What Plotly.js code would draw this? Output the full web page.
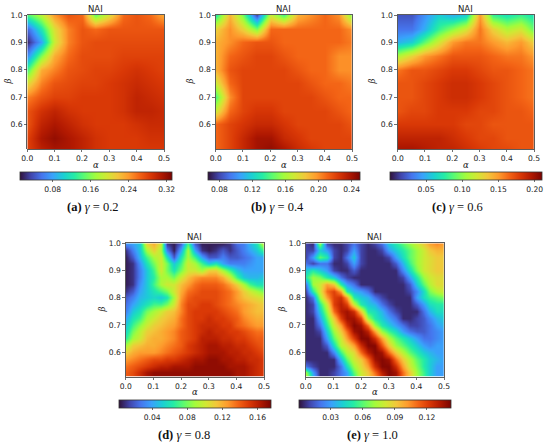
<!DOCTYPE html>
<html><head><meta charset="utf-8">
<script src="https://cdn.plot.ly/plotly-3.0.1.min.js"></script>
<style>html,body{margin:0;padding:0;background:#fff}#plot{width:550px;height:446px}</style>
</head><body><div id="plot"></div>
<script>
// coarse grid (panels a, b, c): alpha columns, beta rows listed from top (1.0) to bottom
const alpha = [0, 0.05, 0.10, 0.15, 0.20, 0.25, 0.30, 0.35, 0.40, 0.45, 0.50];
const betaTopDown = [1.00, 0.95, 0.90, 0.85, 0.80, 0.75, 0.70, 0.65, 0.60, 0.55, 0.50];
// fine grid (panels d, e)
const alphaFine = [0, 0.025, 0.05, 0.075, 0.10, 0.125, 0.15, 0.175, 0.20, 0.225, 0.25,
                   0.275, 0.30, 0.325, 0.35, 0.375, 0.40, 0.425, 0.45, 0.475, 0.50];
const betaFineTopDown = [1.00, 0.975, 0.95, 0.925, 0.90, 0.875, 0.85, 0.825, 0.80, 0.775, 0.75,
                         0.725, 0.70, 0.675, 0.65, 0.625, 0.60, 0.575, 0.55, 0.525, 0.50];

const xTickVals = [0, 0.1, 0.2, 0.3, 0.4, 0.5];
const xTickText = ['0.0', '0.1', '0.2', '0.3', '0.4', '0.5'];
const yTickVals = [0.6, 0.7, 0.8, 0.9, 1.0];
const yTickText = ['0.6', '0.7', '0.8', '0.9', '1.0'];

const captions = ['(a)', '(b)', '(c)', '(d)', '(e)'];
const gammas = ['0.2', '0.4', '0.6', '0.8', '1.0'];

// NAI values, rows top (beta=1.0) to bottom (beta=0.5)
const naiA = [
 [0.14,0.18,0.24,0.27,0.26,0.15,0.20,0.26,0.27,0.26,0.23],
 [0.05,0.12,0.20,0.25,0.27,0.26,0.27,0.27,0.27,0.27,0.27],
 [0.02,0.08,0.19,0.25,0.27,0.275,0.275,0.275,0.275,0.275,0.275],
 [0.07,0.16,0.23,0.26,0.275,0.275,0.275,0.28,0.28,0.28,0.28],
 [0.14,0.23,0.25,0.27,0.275,0.28,0.28,0.285,0.29,0.285,0.28],
 [0.20,0.25,0.27,0.275,0.28,0.28,0.285,0.29,0.295,0.29,0.285],
 [0.25,0.27,0.28,0.28,0.285,0.285,0.285,0.29,0.30,0.295,0.29],
 [0.27,0.29,0.30,0.29,0.285,0.285,0.285,0.29,0.30,0.30,0.295],
 [0.27,0.30,0.31,0.30,0.29,0.285,0.285,0.285,0.29,0.295,0.295],
 [0.28,0.31,0.32,0.31,0.30,0.29,0.285,0.285,0.285,0.29,0.29],
 [0.28,0.30,0.31,0.31,0.30,0.29,0.285,0.285,0.285,0.285,0.285]
];
const naiB = [
 [0.13,0.19,0.15,0.08,0.17,0.14,0.19,0.20,0.21,0.20,0.15],
 [0.18,0.20,0.18,0.15,0.21,0.21,0.21,0.21,0.21,0.21,0.20],
 [0.19,0.20,0.21,0.215,0.215,0.21,0.21,0.21,0.21,0.21,0.205],
 [0.19,0.21,0.215,0.22,0.22,0.215,0.21,0.21,0.21,0.20,0.20],
 [0.19,0.215,0.22,0.22,0.22,0.22,0.215,0.21,0.21,0.20,0.20],
 [0.17,0.21,0.22,0.22,0.22,0.22,0.22,0.215,0.21,0.21,0.205],
 [0.14,0.20,0.22,0.22,0.22,0.22,0.22,0.22,0.215,0.21,0.21],
 [0.17,0.21,0.22,0.225,0.225,0.22,0.22,0.22,0.22,0.215,0.21],
 [0.21,0.22,0.225,0.23,0.23,0.225,0.22,0.22,0.22,0.22,0.215],
 [0.21,0.22,0.23,0.24,0.24,0.23,0.225,0.22,0.22,0.22,0.22],
 [0.21,0.22,0.23,0.24,0.245,0.24,0.23,0.225,0.22,0.22,0.22]
];
const naiC = [
 [0.02,0.02,0.04,0.06,0.05,0.06,0.15,0.08,0.07,0.08,0.07],
 [0.03,0.03,0.05,0.08,0.10,0.12,0.16,0.13,0.11,0.12,0.09],
 [0.05,0.06,0.09,0.12,0.15,0.16,0.16,0.15,0.14,0.15,0.13],
 [0.11,0.13,0.15,0.16,0.17,0.17,0.17,0.165,0.16,0.16,0.15],
 [0.16,0.17,0.17,0.175,0.18,0.18,0.175,0.17,0.17,0.165,0.16],
 [0.17,0.17,0.175,0.18,0.185,0.185,0.18,0.175,0.17,0.165,0.16],
 [0.17,0.17,0.175,0.18,0.185,0.185,0.18,0.175,0.17,0.165,0.16],
 [0.17,0.175,0.175,0.18,0.18,0.18,0.175,0.175,0.17,0.17,0.165],
 [0.18,0.18,0.18,0.18,0.18,0.175,0.175,0.17,0.17,0.17,0.17],
 [0.19,0.19,0.19,0.19,0.185,0.18,0.175,0.175,0.17,0.17,0.17],
 [0.20,0.20,0.195,0.19,0.19,0.185,0.18,0.175,0.175,0.17,0.17]
];
const naiD = [
 [0.035,0.04,0.05,0.11,0.12,0.10,0.01,0.005,0.02,0.07,0.02,0.005,0.005,0.005,0.005,0.01,0.025,0.03,0.045,0.06,0.10],
 [0.01,0.03,0.05,0.09,0.11,0.09,0.03,0.005,0.04,0.09,0.04,0.01,0.005,0.01,0.02,0.01,0.02,0.03,0.04,0.05,0.07],
 [0.005,0.02,0.045,0.07,0.09,0.10,0.06,0.02,0.06,0.09,0.07,0.04,0.02,0.02,0.03,0.02,0.02,0.025,0.03,0.04,0.04],
 [0.005,0.01,0.035,0.06,0.08,0.10,0.08,0.05,0.07,0.10,0.09,0.07,0.05,0.06,0.04,0.03,0.03,0.03,0.035,0.04,0.04],
 [0.005,0.01,0.03,0.05,0.07,0.10,0.08,0.06,0.08,0.10,0.10,0.09,0.11,0.11,0.09,0.07,0.05,0.04,0.04,0.04,0.04],
 [0.005,0.01,0.03,0.05,0.065,0.09,0.09,0.08,0.10,0.115,0.125,0.13,0.13,0.13,0.12,0.10,0.07,0.05,0.045,0.045,0.05],
 [0.005,0.01,0.035,0.05,0.07,0.09,0.10,0.10,0.115,0.125,0.135,0.14,0.14,0.14,0.135,0.125,0.11,0.09,0.07,0.06,0.06],
 [0.01,0.02,0.04,0.05,0.06,0.07,0.08,0.10,0.12,0.135,0.14,0.145,0.145,0.145,0.14,0.135,0.125,0.11,0.10,0.09,0.08],
 [0.02,0.03,0.045,0.05,0.055,0.05,0.06,0.09,0.125,0.14,0.145,0.145,0.145,0.145,0.14,0.135,0.125,0.115,0.11,0.105,0.10],
 [0.025,0.04,0.05,0.06,0.07,0.07,0.08,0.10,0.13,0.145,0.145,0.15,0.15,0.145,0.14,0.135,0.13,0.125,0.12,0.115,0.11],
 [0.03,0.05,0.06,0.08,0.09,0.10,0.11,0.115,0.13,0.145,0.15,0.15,0.15,0.15,0.145,0.14,0.135,0.125,0.12,0.115,0.115],
 [0.04,0.06,0.07,0.09,0.10,0.11,0.115,0.12,0.135,0.145,0.15,0.15,0.155,0.15,0.15,0.145,0.14,0.13,0.125,0.12,0.12],
 [0.05,0.07,0.085,0.10,0.11,0.115,0.12,0.125,0.135,0.145,0.15,0.155,0.155,0.155,0.15,0.15,0.14,0.135,0.13,0.125,0.125],
 [0.055,0.08,0.095,0.11,0.115,0.12,0.125,0.13,0.14,0.145,0.15,0.155,0.16,0.155,0.155,0.15,0.15,0.145,0.14,0.135,0.135],
 [0.065,0.09,0.10,0.115,0.12,0.12,0.125,0.13,0.14,0.145,0.15,0.16,0.16,0.16,0.155,0.155,0.15,0.15,0.145,0.14,0.14],
 [0.09,0.11,0.115,0.12,0.12,0.125,0.13,0.135,0.14,0.15,0.155,0.16,0.165,0.165,0.16,0.16,0.155,0.155,0.15,0.145,0.14],
 [0.11,0.12,0.125,0.125,0.125,0.13,0.135,0.14,0.145,0.15,0.155,0.16,0.165,0.165,0.165,0.16,0.16,0.155,0.155,0.15,0.145],
 [0.125,0.13,0.135,0.14,0.145,0.145,0.15,0.15,0.155,0.16,0.165,0.165,0.17,0.17,0.165,0.165,0.16,0.16,0.155,0.155,0.15],
 [0.135,0.14,0.145,0.15,0.155,0.16,0.16,0.165,0.165,0.165,0.17,0.17,0.17,0.17,0.17,0.165,0.165,0.165,0.16,0.155,0.15],
 [0.14,0.145,0.155,0.165,0.17,0.17,0.17,0.17,0.17,0.17,0.17,0.17,0.17,0.17,0.17,0.17,0.165,0.165,0.16,0.155,0.15],
 [0.14,0.145,0.155,0.165,0.17,0.17,0.17,0.17,0.17,0.17,0.17,0.17,0.17,0.17,0.17,0.17,0.165,0.165,0.16,0.155,0.15]
];
const naiE = [
 [0.01,0.005,0.07,0.01,0.005,0.005,0.01,0.02,0.01,0.005,0.01,0.02,0.04,0.05,0.06,0.07,0.08,0.09,0.10,0.105,0.10],
 [0.01,0.01,0.04,0.03,0.01,0.005,0.01,0.03,0.01,0.005,0.005,0.01,0.03,0.04,0.05,0.06,0.07,0.08,0.09,0.095,0.095],
 [0.01,0.03,0.06,0.05,0.01,0.005,0.02,0.04,0.01,0.005,0.005,0.005,0.01,0.03,0.045,0.06,0.07,0.08,0.085,0.09,0.09],
 [0.02,0.01,0.02,0.02,0.005,0.005,0.01,0.03,0.01,0.005,0.005,0.005,0.005,0.015,0.035,0.055,0.07,0.08,0.085,0.09,0.09],
 [0.04,0.05,0.04,0.03,0.01,0.005,0.005,0.015,0.005,0.005,0.005,0.005,0.005,0.005,0.025,0.045,0.065,0.08,0.085,0.09,0.09],
 [0.05,0.07,0.065,0.05,0.04,0.02,0.01,0.005,0.005,0.005,0.005,0.005,0.005,0.005,0.01,0.03,0.05,0.07,0.08,0.085,0.085],
 [0.02,0.07,0.08,0.10,0.09,0.05,0.03,0.02,0.005,0.005,0.005,0.005,0.005,0.005,0.005,0.015,0.04,0.06,0.075,0.085,0.085],
 [0.01,0.05,0.08,0.11,0.12,0.10,0.05,0.035,0.03,0.02,0.005,0.005,0.005,0.005,0.005,0.01,0.025,0.045,0.065,0.075,0.08],
 [0.005,0.02,0.07,0.10,0.12,0.125,0.10,0.05,0.04,0.035,0.02,0.01,0.005,0.005,0.005,0.005,0.03,0.045,0.055,0.06,0.065],
 [0.005,0.01,0.05,0.08,0.12,0.13,0.12,0.08,0.05,0.04,0.035,0.02,0.01,0.005,0.005,0.005,0.015,0.03,0.045,0.05,0.05],
 [0.005,0.01,0.04,0.07,0.11,0.13,0.135,0.125,0.09,0.05,0.045,0.035,0.02,0.01,0.005,0.005,0.005,0.02,0.035,0.045,0.045],
 [0.005,0.005,0.03,0.06,0.09,0.12,0.135,0.135,0.12,0.07,0.05,0.04,0.03,0.02,0.005,0.005,0.01,0.015,0.025,0.035,0.04],
 [0.005,0.005,0.02,0.05,0.08,0.10,0.125,0.14,0.135,0.11,0.07,0.05,0.04,0.03,0.02,0.01,0.01,0.015,0.02,0.03,0.035],
 [0.005,0.005,0.01,0.04,0.07,0.09,0.11,0.135,0.14,0.13,0.10,0.07,0.055,0.045,0.03,0.02,0.015,0.015,0.02,0.025,0.03],
 [0.005,0.005,0.005,0.03,0.06,0.08,0.10,0.12,0.14,0.14,0.125,0.10,0.075,0.06,0.05,0.04,0.03,0.02,0.02,0.025,0.03],
 [0.005,0.005,0.005,0.015,0.045,0.075,0.085,0.10,0.125,0.14,0.14,0.115,0.09,0.07,0.06,0.05,0.04,0.03,0.025,0.03,0.03],
 [0.005,0.005,0.005,0.005,0.025,0.055,0.075,0.085,0.11,0.13,0.14,0.135,0.11,0.09,0.075,0.06,0.05,0.04,0.035,0.03,0.03],
 [0.005,0.005,0.005,0.005,0.005,0.035,0.06,0.08,0.09,0.11,0.135,0.14,0.135,0.11,0.09,0.075,0.06,0.05,0.04,0.035,0.03],
 [0.02,0.01,0.005,0.005,0.005,0.02,0.045,0.07,0.085,0.10,0.125,0.14,0.14,0.125,0.10,0.08,0.065,0.05,0.04,0.03,0.03],
 [0.07,0.03,0.005,0.005,0.01,0.02,0.03,0.06,0.08,0.09,0.11,0.13,0.14,0.135,0.11,0.09,0.07,0.055,0.04,0.03,0.03],
 [0.08,0.04,0.005,0.005,0.01,0.02,0.03,0.05,0.08,0.09,0.10,0.12,0.14,0.135,0.11,0.09,0.07,0.055,0.04,0.03,0.03]
];
const naiData = [naiA, naiB, naiC, naiD, naiE];
const zMin = [0.011, 0.066, 0.0, 0.002, 0.0];
const zMax = [0.331, 0.250, 0.210, 0.175, 0.142];
const cbTicks = [
 [0.08, 0.16, 0.24, 0.32],
 [0.08, 0.12, 0.16, 0.20, 0.24],
 [0.05, 0.10, 0.15, 0.20],
 [0.04, 0.08, 0.12, 0.16],
 [0.03, 0.06, 0.09, 0.12]
];

const turbo = ['#30123b','#4145ab','#4675ed','#39a2fc','#1bcfd4','#24eca6','#61fc6c','#a4fc3b','#d1e834','#f3c63a','#fe9b2d','#f36315','#d93806','#b11901','#7a0402'];
const colorscale = turbo.map((c, i) => [i / (turbo.length - 1), c]);

// layout geometry in pixels (W x H)
const W = 550, H = 446;
const panels = [
 {x0: 27.3, x1: 164, y0: 15, y1: 149, cb: [20, 171.7, 172.3], cap: [93, 207.5], beta: 7.5},
 {x0: 215.7, x1: 352, y0: 15, y1: 149, cb: [207.7, 360, 172.3], cap: [277, 207.5], beta: 189.5},
 {x0: 397.7, x1: 534, y0: 15, y1: 149, cb: [390, 541.7, 172.3], cap: [457, 207.5], beta: 371.5},
 {x0: 125.7, x1: 264, y0: 243.3, y1: 376.7, cb: [119, 270.5, 400.3], cap: [184, 435], beta: 101.5},
 {x0: 305.7, x1: 444, y0: 243.3, y1: 376.7, cb: [298.5, 450.5, 400.3], cap: [372, 435], beta: 281.5}
];
const px = v => v / W, py = v => 1 - v / H;

const tickFont = {family: 'DejaVu Sans', size: 7.6, color: '#222'};
const traces = [], annotations = [];
const layout = {
  width: W, height: H, margin: {l: 0, r: 0, t: 0, b: 0},
  paper_bgcolor: '#fff', plot_bgcolor: '#fff', showlegend: false,
  font: tickFont, annotations: annotations
};

panels.forEach((p, i) => {
  const sfx = i === 0 ? '' : String(i + 1);
  const fine = i >= 3;
  const z = naiData[i].slice().reverse();
  const y = (fine ? betaFineTopDown : betaTopDown).slice().reverse();
  traces.push({
    type: 'heatmap', x: fine ? alphaFine : alpha, y: y, z: z,
    xaxis: 'x' + sfx, yaxis: 'y' + sfx,
    colorscale: colorscale, zmin: zMin[i], zmax: zMax[i], zsmooth: 'best',
    hoverinfo: 'skip',
    colorbar: {
      orientation: 'h', x: px((p.cb[0] + p.cb[1]) / 2), xanchor: 'center',
      y: py(p.cb[2]), yanchor: 'top', yref: 'paper',
      len: (p.cb[1] - p.cb[0]) / W, lenmode: 'fraction', thickness: 7.7,
      xpad: 0, ypad: 0, outlinewidth: 0.8, outlinecolor: '#333',
      tickvals: cbTicks[i], tickformat: '.2f', ticks: 'outside', ticklen: 2.5,
      tickwidth: 0.7, tickcolor: '#333', tickfont: tickFont
    }
  });
  layout['xaxis' + sfx] = {
    domain: [px(p.x0), px(p.x1)], anchor: 'y' + sfx, range: [0, 0.5],
    tickvals: xTickVals, ticktext: xTickText, ticks: 'outside', ticklen: 2.5,
    tickwidth: 0.7, tickcolor: '#333', showline: true, mirror: true,
    linecolor: '#333', linewidth: 0.8, showgrid: false, zeroline: false,
    tickfont: tickFont, fixedrange: true
  };
  layout['yaxis' + sfx] = {
    domain: [py(p.y1), py(p.y0)], anchor: 'x' + sfx, range: [0.51, 1.0],
    tickvals: yTickVals, ticktext: yTickText, ticks: 'outside', ticklen: 2.5,
    tickwidth: 0.7, tickcolor: '#333', showline: true, mirror: true,
    linecolor: '#333', linewidth: 0.8, showgrid: false, zeroline: false,
    tickfont: tickFont, fixedrange: true
  };
  const cx = (p.x0 + p.x1) / 2, cy = (p.y0 + p.y1) / 2;
  annotations.push({text: 'NAI', x: px(cx), y: py(p.y0 - 6), xref: 'paper', yref: 'paper',
    xanchor: 'center', yanchor: 'middle', showarrow: false,
    font: {family: 'DejaVu Sans', size: 8.5, color: '#222'}});
  annotations.push({text: '<i>α</i>', x: px(cx), y: py(p.y1 + 15.5), xref: 'paper', yref: 'paper',
    xanchor: 'center', yanchor: 'middle', showarrow: false,
    font: {family: 'DejaVu Serif', size: 8.5, color: '#222'}});
  annotations.push({text: '<i>β</i>', x: px(p.beta), y: py(cy), xref: 'paper', yref: 'paper',
    xanchor: 'center', yanchor: 'middle', showarrow: false, textangle: -90,
    font: {family: 'DejaVu Serif', size: 8.5, color: '#222'}});
  annotations.push({text: '<b>' + captions[i] + '</b> <i>γ</i> = ' + gammas[i],
    x: px(p.cap[0]), y: py(p.cap[1]), xref: 'paper', yref: 'paper',
    xanchor: 'center', yanchor: 'middle', showarrow: false,
    font: {family: 'Liberation Serif', size: 12.5, color: '#111'}});
});

Plotly.newPlot('plot', traces, layout, {staticPlot: true, displayModeBar: false});
</script></body></html>
